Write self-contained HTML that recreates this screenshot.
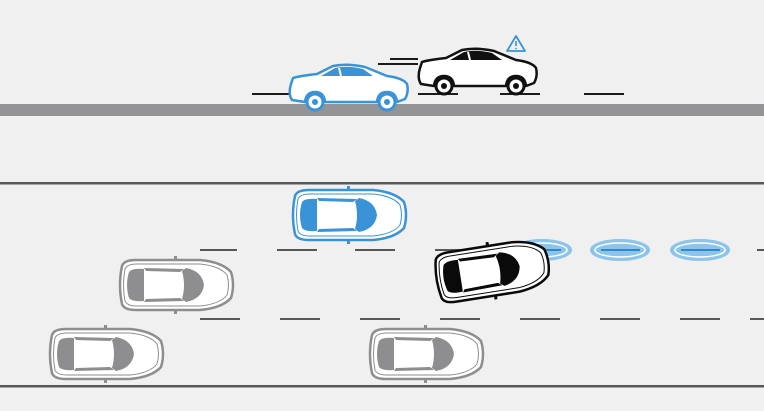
<!DOCTYPE html>
<html><head><style>html,body{margin:0;padding:0;background:#f0f0f0}svg{display:block}</style></head>
<body>
<svg width="764" height="411" viewBox="0 0 764 411" xmlns="http://www.w3.org/2000/svg">
<defs>
<g id="topcar">
  <path d="M8,6 Q4,25 8,44 Q10,50 22,50 L86,50 Q108,48 117,38 Q121,25 117,12 Q108,2 86,0 L22,0 Q10,0 8,6 Z" fill="#fff" stroke="currentColor" stroke-width="2.5"/>
  <path d="M11,9 Q8,25 11,41 Q13,46 23,46 L86,46 Q106,44 113,35 Q116,25 113,15 Q106,6 86,4 L23,4 Q13,4 11,9 Z" fill="none" stroke="currentColor" stroke-width="1"/>
  <path d="M15,12 Q11,25 15,38 Q18,42 30,41 L30,9 Q18,8 15,12 Z" fill="currentColor"/>
  <path d="M72,8 Q88,11 90,25 Q88,39 72,42 L68,39 Q72,25 68,11 Z" fill="currentColor"/>
  <path d="M30,8 L70,9 L66,12 L32,11 Z M30,42 L70,41 L66,38 L32,39 Z" fill="currentColor"/>
  <rect x="60" y="-4" width="3" height="5" fill="currentColor"/><rect x="60" y="49" width="3" height="5" fill="currentColor"/>
</g>
<g id="sidecar">
  <path d="M4,20 Q1,30 5,36 L18,38 Q19,28 28,28 Q37,28 38,38 L90,38 Q91,28 100,28 Q109,28 110,38 L118,35 Q122,28 120,20 Q116,14 100,12 L78,3 Q60,-1 46,2 L30,10 Q12,12 6,14 Z" fill="#fff" stroke="currentColor" stroke-width="2.5" stroke-linejoin="round"/>
  <path d="M34,12 L48,4 Q60,1 76,5 L86,12 Z" fill="currentColor"/>
  <path d="M52,4 L54,12" stroke="#fff" stroke-width="2"/>
  <circle cx="28" cy="38" r="8" fill="#fff" stroke="currentColor" stroke-width="3"/>
  <circle cx="100" cy="38" r="8" fill="#fff" stroke="currentColor" stroke-width="3"/>
  <circle cx="28" cy="38" r="3" fill="currentColor"/><circle cx="100" cy="38" r="3" fill="currentColor"/>
</g>
</defs>
<rect width="764" height="411" fill="#f0f0f0"/>
<rect x="0" y="104" width="764" height="12" fill="#949497"/>
<rect x="0" y="182" width="764" height="2.5" fill="#58585a"/>
<rect x="0" y="385" width="764" height="2.5" fill="#58585a"/>
<g stroke="#1a1a1a" stroke-width="2">
  <line x1="252" y1="94" x2="290" y2="94"/><line x1="418" y1="94" x2="458" y2="94"/>
  <line x1="500" y1="94" x2="540" y2="94"/><line x1="584" y1="94" x2="624" y2="94"/>
  <line x1="378" y1="64" x2="418" y2="64"/><line x1="390" y1="59" x2="418" y2="59"/>
</g>
<g stroke="#58585a" stroke-width="2">
  <line x1="200" y1="250" x2="237" y2="250"/><line x1="277" y1="250" x2="317" y2="250"/>
  <line x1="355" y1="250" x2="395" y2="250"/><line x1="435" y1="250" x2="475" y2="250"/>
  <line x1="757" y1="250" x2="764" y2="250"/>
  <line x1="200" y1="319" x2="240" y2="319"/><line x1="280" y1="319" x2="320" y2="319"/>
  <line x1="360" y1="319" x2="400" y2="319"/><line x1="440" y1="319" x2="480" y2="319"/>
  <line x1="520" y1="319" x2="560" y2="319"/><line x1="600" y1="319" x2="640" y2="319"/>
  <line x1="680" y1="319" x2="720" y2="319"/><line x1="750" y1="319" x2="764" y2="319"/>
</g>
<g>
  <ellipse cx="542" cy="250" rx="29" ry="10" fill="#8cc4ec" stroke="#8cc4ec" stroke-width="2"/>
  <ellipse cx="542" cy="250" rx="25" ry="7" fill="#8cc4ec" stroke="#fff" stroke-width="1.5"/>
  <ellipse cx="620" cy="250" rx="29" ry="10" fill="#8cc4ec" stroke="#8cc4ec" stroke-width="2"/>
  <ellipse cx="620" cy="250" rx="25" ry="7" fill="#8cc4ec" stroke="#fff" stroke-width="1.5"/>
  <ellipse cx="700" cy="250" rx="29" ry="10" fill="#8cc4ec" stroke="#8cc4ec" stroke-width="2"/>
  <ellipse cx="700" cy="250" rx="25" ry="7" fill="#8cc4ec" stroke="#fff" stroke-width="1.5"/>
  <g stroke="#2f88c8" stroke-width="2"><line x1="527" y1="250" x2="561" y2="250"/><line x1="601" y1="250" x2="640" y2="250"/><line x1="681" y1="250" x2="720" y2="250"/></g>
</g>
<use href="#sidecar" x="287" y="64" style="color:#3a93d6"/>
<use href="#sidecar" x="416" y="48" style="color:#111"/>
<path d="M516,36 L525,51 L507,51 Z" fill="none" stroke="#3a93d6" stroke-width="1.8" stroke-linejoin="round"/>
<line x1="516" y1="41" x2="516" y2="46" stroke="#3a93d6" stroke-width="1.6"/><circle cx="516" cy="48.5" r="0.9" fill="#3a93d6"/>
<use href="#topcar" x="287" y="190" style="color:#3a93d6"/>
<use href="#topcar" x="114" y="260" style="color:#8e8e90"/>
<use href="#topcar" x="44" y="329" style="color:#8e8e90"/>
<use href="#topcar" x="364" y="329" style="color:#8e8e90"/>
<g transform="translate(490,271) rotate(-9) translate(-60,-25)"><use href="#topcar" style="color:#0a0a0a"/></g>
</svg>
</body></html>
